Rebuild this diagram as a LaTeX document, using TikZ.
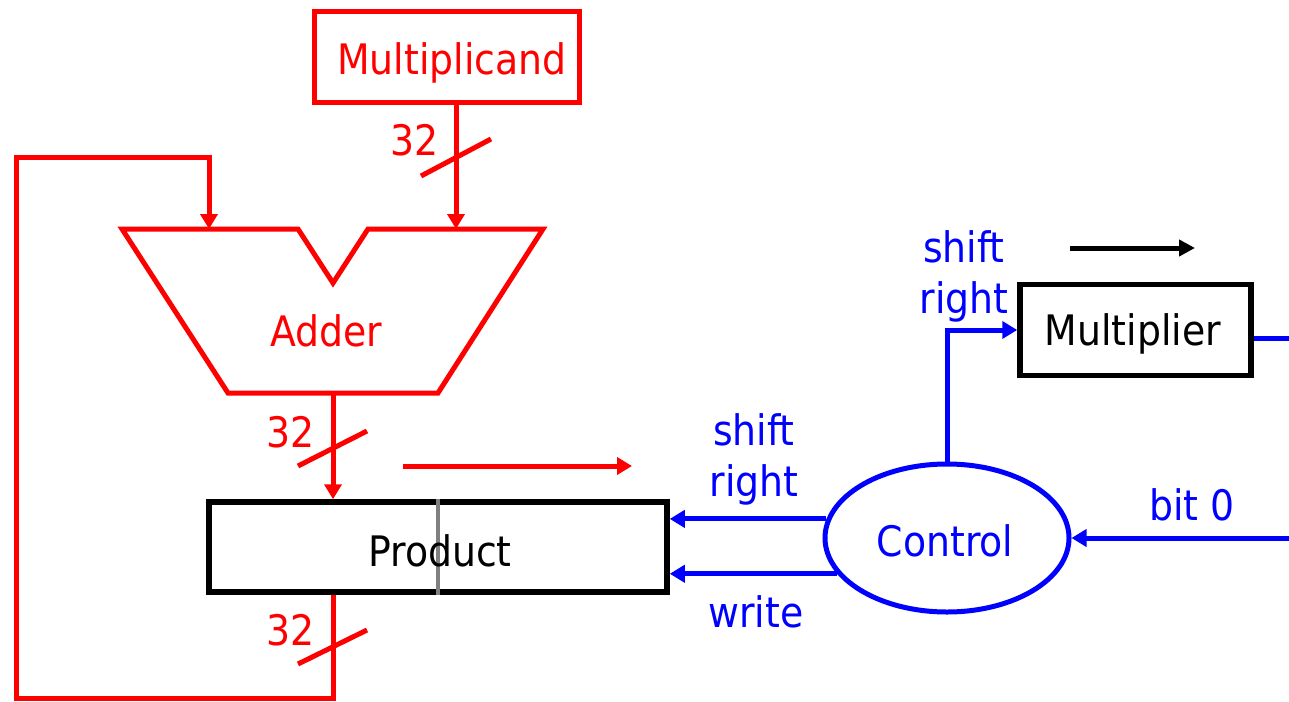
\documentclass[tikz,border=0pt]{standalone}
\usepackage{fontspec}
\setmainfont[Ligatures=NoCommon]{DejaVu Sans Condensed}
\usetikzlibrary{arrows.meta,shapes.geometric}

\definecolor{sigred}{RGB}{255,0,0}
\definecolor{ctlblue}{RGB}{0,0,255}
\definecolor{divgray}{RGB}{128,128,128}

\begin{document}
\begin{tikzpicture}[x=1pt,y=-1pt,
  txt/.style={font=\fontsize{42}{51}\selectfont, inner sep=0pt, align=center},
  redtxt/.style={txt, text=sigred},
  bluetxt/.style={txt, text=ctlblue},
  tip/.style={-{Triangle[length=15pt,width=17pt]}},
  datapath/.style={draw=sigred, line width=5pt},
  ctlpath/.style={draw=ctlblue, line width=5pt},
  regbox/.style={draw=black, line width=5.5pt, rectangle, inner sep=0pt, fill=white},
  busslash/.style={draw=sigred, line width=5pt},
]
\useasboundingbox (0,0) rectangle (1289,701);

% ---------- registers ----------
\node[regbox, draw=sigred, line width=5pt, minimum width=265pt, minimum height=90pt]
  (mcand) at (446.5,57) {};
\node[redtxt] at (452,63) {Multiplicand};

\node[regbox, minimum width=458pt, minimum height=90pt] (prod) at (438,547) {};
\draw[divgray, line width=4pt] (prod.north -| 438,0) -- (prod.south -| 438,0);
\node[txt] at (440,551) {Product};

\node[regbox, minimum width=231pt, minimum height=91pt] (mult) at (1135.5,330) {};
\node[txt] at (1133,334) {Multiplier};

\node[ellipse, draw=ctlblue, line width=5pt, minimum width=244pt, minimum height=148pt,
  inner sep=0pt] (ctrl) at (947,538) {};
\node[bluetxt] at (945,541) {Control};

% ---------- adder ----------
\coordinate (addA) at (209,229);
\coordinate (addB) at (456,229);
\coordinate (addOut) at (333,393);
\draw[datapath, line join=miter]
  (122,229) -- (298,229) -- (333,283) -- (368,229) -- (543,229)
  -- (438,393) -- (228,393) -- cycle;
\node[redtxt] at (326,331) {Adder};

% ---------- data paths ----------
\draw[datapath, tip] (mcand.south -| addB) -- (addB);
\draw[datapath, tip] (addOut) -- (prod.north -| addOut);

\coordinate (loopA) at (333,698);
\coordinate (loopB) at (16,698);
\coordinate (loopC) at (16,157);
\coordinate (loopD) at (209,157);
\draw[datapath, tip, line join=miter]
  (prod.south -| addOut) -- (loopA) -- (loopB) -- (loopC) -- (loopD) -- (addA);

% bus width marks
\draw[busslash] (421,176) -- (491,139);
\node[redtxt] at (415,140) {32};
\draw[busslash] (298,466) -- (367,431);
\node[redtxt] at (291,432) {32};
\draw[busslash] (298,664) -- (367,630);
\node[redtxt] at (291,630) {32};

% shift direction of the product register
\coordinate (pshA) at (403,466);
\coordinate (pshB) at (632,466);
\draw[datapath, tip] (pshA) -- (pshB);

% shift direction of the multiplier register
\coordinate (mshA) at (1070,248);
\coordinate (mshB) at (1195,248);
\draw[black, line width=5pt, -{Triangle[length=16pt,width=16pt]}] (mshA) -- (mshB);

% ---------- control signals ----------
\draw[ctlpath, tip] (ctrl.north) |- (mult.west);
\node[bluetxt] at (964,276) {shift\\right};

\coordinate (multOut) at (1289,338);
\draw[ctlpath] (mult.east |- multOut) -- (multOut);

\coordinate (bitIn) at (1289,538);
\draw[ctlpath, tip] (bitIn) -- (ctrl.east);
\node[bluetxt] at (1192,505) {bit 0};

\draw[ctlpath, tip] (ctrl.171.3) -- (prod.east |- ctrl.171.3);
\node[bluetxt] at (754,459) {shift\\right};

\draw[ctlpath, tip] (ctrl.198.7) -- (prod.east |- ctrl.198.7);
\node[bluetxt] at (756,612) {write};
\end{tikzpicture}
\end{document}
